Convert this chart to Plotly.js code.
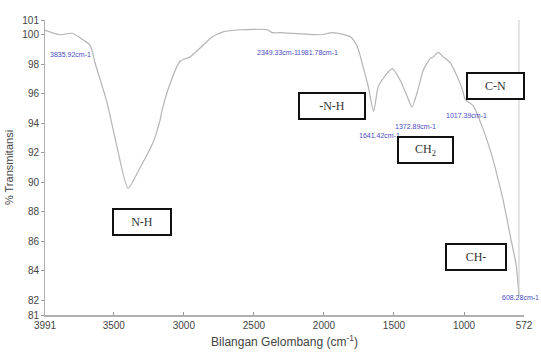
<!DOCTYPE html>
<html>
<head>
<meta charset="utf-8">
<script src="https://cdn.plot.ly/plotly-3.0.1.min.js"></script>
<style>html,body{margin:0;padding:0;background:#fff;}#chart{width:541px;height:362px;}</style>
</head>
<body>
<div id="chart"></div>
<script>
// FTIR spectrum
const wavenumber = [3991, 3884, 3798, 3741, 3670, 3634, 3548, 3477, 3398, 3312, 3220, 3170, 3155, 3098, 3027, 2955, 2884, 2798, 2720, 2598, 2405, 2370, 2312, 2027, 1934, 1812, 1762, 1720, 1684, 1645, 1612, 1548, 1512, 1455, 1405, 1372, 1334, 1291, 1241, 1220, 1184, 1148, 1098, 1048, 1012, 991, 935, 864, 792, 757, 721, 671, 628, 608];
const transmittance = [100.3, 100.0, 100.1, 99.8, 99.3, 98.1, 95.4, 92.4, 89.6, 91.0, 92.7, 94.2, 94.9, 96.7, 98.2, 98.5, 99.1, 99.85, 100.2, 100.34, 100.34, 100.14, 100.14, 100.0, 100.14, 99.86, 99.2, 97.8, 96.5, 94.8, 96.5, 97.4, 97.7, 96.9, 95.8, 95.1, 96.1, 97.6, 98.4, 98.5, 98.8, 98.5, 98.1, 97.15, 96.3, 95.6, 95.2, 93.6, 91.5, 90.2, 88.8, 86.4, 84.4, 82.3];

const xTickVals = [3991, 3500, 3000, 2500, 2000, 1500, 1000, 572];
const yTickVals = [81, 82, 84, 86, 88, 90, 92, 94, 96, 98, 100, 101];

// Peak labels
const peakText = ["3835.92cm-1", "2349.33cm-1", "1981.78cm-1", "1641.42cm-1", "1372.89cm-1", "1017.39cm-1", "608.28cm-1"];
const peakX = [3970, 2491, 1884, 1762, 1505, 1141, 741];
const peakY = [98.64, 98.78, 98.78, 93.2, 93.75, 94.5, 82.2];
const peakAnchor = ["left", "left", "right", "left", "left", "left", "left"];

// Functional-group boxes
const groupText = ["N-H", "-N-H", "CH<sub>2</sub>", "C-N", "CH-"];
const groupX = [3298, 1941, 1273, 773, 912];
const groupY = [87.3, 95.14, 92.19, 96.54, 84.92];
const groupW = [56, 64, 53, 55, 58];

const annotations = [];
peakText.forEach((t, i) => annotations.push({
  x: peakX[i], y: peakY[i], xref: 'x', yref: 'y', text: t, showarrow: false,
  xanchor: peakAnchor[i], yanchor: 'middle',
  font: {family: 'Liberation Sans Narrow, Liberation Sans, Arial', size: 7, color: '#4a4ac4'}
}));
groupText.forEach((t, i) => annotations.push({
  x: groupX[i], y: groupY[i], xref: 'x', yref: 'y', text: t, showarrow: false,
  xanchor: 'center', yanchor: 'middle', width: groupW[i], height: 24,
  bgcolor: '#ffffff', bordercolor: '#111111', borderwidth: 2, borderpad: 0,
  font: {family: 'Liberation Serif, Times New Roman, serif', size: 12, color: '#333333'}
}));

const trace = {
  x: wavenumber, y: transmittance, type: 'scatter', mode: 'lines',
  line: {color: '#b4b4b4', width: 1.2, shape: 'spline', smoothing: 0.6},
  hoverinfo: 'skip', showlegend: false
};

const layout = {
  width: 541, height: 362,
  margin: {l: 45, r: 17, t: 20, b: 47},
  paper_bgcolor: '#ffffff', plot_bgcolor: '#ffffff',
  font: {family: 'Liberation Sans Narrow, Liberation Sans, Arial', size: 10, color: '#444'},
  xaxis: {
    range: [3991, 572], tickvals: xTickVals, ticktext: xTickVals.map(String),
    showgrid: false, zeroline: false, showline: true, linecolor: '#b0b0b0', linewidth: 2,
    ticks: 'inside', ticklen: 3, tickcolor: '#999',
    tickfont: {family: 'Liberation Sans Narrow, Liberation Sans, Arial', size: 10, color: '#444'},
    title: {text: 'Bilangan Gelombang (cm<sup>-1</sup>)', standoff: 8,
            font: {family: 'Liberation Sans, Arial', size: 12, color: '#444'}}
  },
  yaxis: {
    range: [81, 101], tickvals: yTickVals, ticktext: yTickVals.map(String),
    showgrid: false, zeroline: false, showline: true, linecolor: '#b0b0b0', linewidth: 1,
    ticks: 'outside', ticklen: 3, tickcolor: '#999',
    tickfont: {family: 'Liberation Sans Narrow, Liberation Sans, Arial', size: 10, color: '#444'},
    title: {text: '% Transmitansi', standoff: 6,
            font: {family: 'Liberation Sans, Arial', size: 11, color: '#444'}}
  },
  shapes: [{
    type: 'line', xref: 'x', yref: 'y', x0: 608, x1: 608, y0: 82.4, y1: 101,
    line: {color: '#c8c8c8', width: 1}
  }],
  annotations: annotations
};

Plotly.newPlot('chart', [trace], layout, {displayModeBar: false, staticPlot: true});
</script>
</body>
</html>
